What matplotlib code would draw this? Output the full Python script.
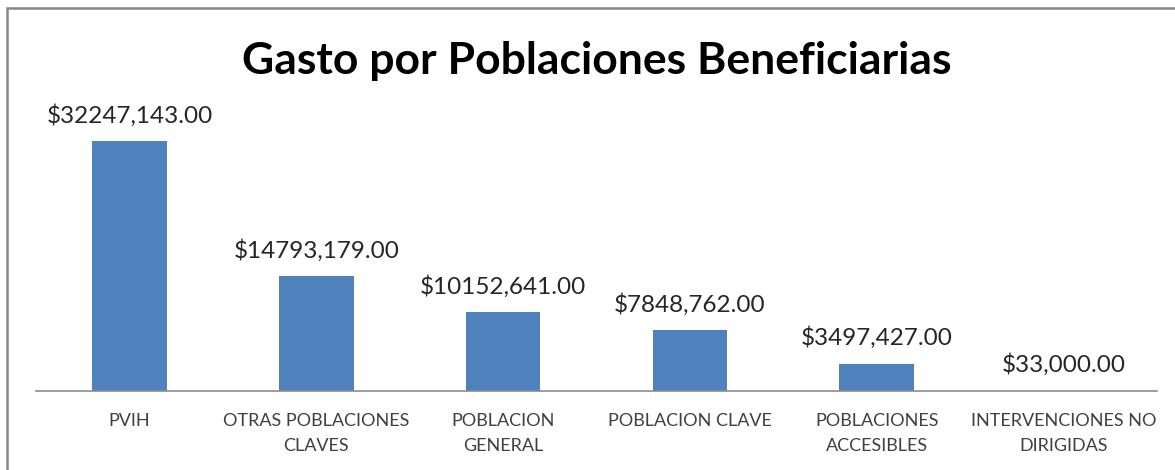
import numpy as np
import matplotlib
matplotlib.use('Agg')
import matplotlib.pyplot as plt

# --- Data ---
categories = ['PVIH', 'OTRAS POBLACIONES\nCLAVES', 'POBLACION\nGENERAL',
              'POBLACION CLAVE', 'POBLACIONES\nACCESIBLES', 'INTERVENCIONES NO\nDIRIGIDAS']
values = [32247143.00, 14793179.00, 10152641.00, 7848762.00, 3497427.00, 33000.00]
value_labels = ['$32247,143.00', '$14793,179.00', '$10152,641.00',
                '$7848,762.00', '$3497,427.00', '$33,000.00']

plt.rcParams['font.family'] = ['Lato', 'DejaVu Sans']

fig = plt.figure(figsize=(11.75, 4.7), dpi=100)
ax = fig.add_axes([36 / 1175, 1 - 391 / 470, 1121 / 1175, 271 / 470])

x = np.arange(len(categories))
ax.bar(x, values, width=0.4, color='#4F81BD')
ax.set_xlim(-0.5, len(categories) - 0.5)
ax.set_ylim(0, 35e6)

for xi, v, lab in zip(x, values, value_labels):
    ax.annotate(lab, (xi, v), xytext=(0, 13.5), textcoords='offset points',
                ha='center', va='baseline', fontsize=17.5, color='#262626')

ax.set_xticks(x)
ax.set_xticklabels(categories, fontsize=13, color='#404040', linespacing=1.65)
ax.tick_params(axis='x', length=0, pad=16)
ax.set_yticks([])
for s in ['top', 'left', 'right']:
    ax.spines[s].set_visible(False)
ax.spines['bottom'].set_color('#8c8c8c')
ax.spines['bottom'].set_linewidth(1.2)

fig.text(597 / 1175, 1 - 61 / 470, 'Gasto por Poblaciones Beneficiarias',
         ha='center', va='center', fontsize=32, fontweight='bold', color='black')

# chart border (cut at right/bottom edge like the screenshot)
border = plt.Rectangle((7 / 1175, -0.1), 1.2, 1 - 8 / 470 + 0.1, transform=fig.transFigure,
                       fill=False, edgecolor='#868686', linewidth=1.8)
fig.patches.append(border)

fig.savefig('out.png', dpi=100)
